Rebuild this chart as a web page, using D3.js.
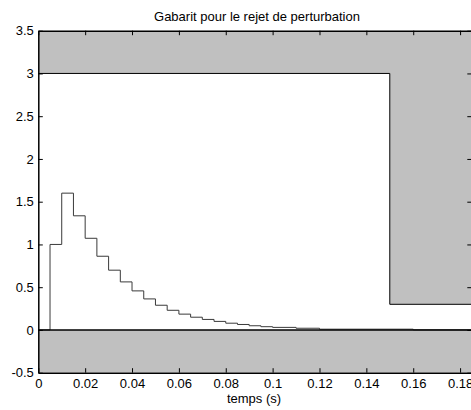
<!DOCTYPE html>
<html><head><meta charset="utf-8">
<script src="https://cdn.jsdelivr.net/npm/d3@7"></script>
<style>
html,body{margin:0;padding:0;background:#fff;}
text{font-family:"Liberation Sans",Arial,Helvetica,sans-serif;}
</style></head>
<body><svg id="chart" width="471" height="410"></svg>
<script>
const titleText = "Gabarit pour le rejet de perturbation";
const xLabelText = "temps (s)";
const xTicks = [0, 0.02, 0.04, 0.06, 0.08, 0.1, 0.12, 0.14, 0.16, 0.18];
const yTicks = [-0.5, 0, 0.5, 1, 1.5, 2, 2.5, 3, 3.5];
const xLimits = [0, 0.185];
const yLimits = [-0.5, 3.5];
// gabarit (template) bounds
const upperBoundX = [0, 0.15, 0.15, 0.185];
const upperBoundY = [3, 3, 0.3, 0.3];
const lowerBoundX = [0, 0.185];
const lowerBoundY = [0, 0];
// disturbance response (staircase)
const stepTimes = [0, 0.005, 0.01, 0.015, 0.02, 0.025, 0.03, 0.035, 0.04, 0.045, 0.05, 0.055, 0.06, 0.065, 0.07, 0.075, 0.08, 0.085, 0.09, 0.095, 0.1, 0.11, 0.12, 0.16, 0.185];
const stepValues = [0, 1, 1.6, 1.335, 1.072, 0.862, 0.699, 0.562, 0.457, 0.363, 0.289, 0.23, 0.185, 0.149, 0.123, 0.1, 0.079, 0.064, 0.049, 0.038, 0.03, 0.02, 0.009, 0.001, 0.001];

const svg = d3.select("#chart");
const x = d3.scaleLinear().domain(xLimits).range([38.3, 471.8]);
const y = d3.scaleLinear().domain(yLimits).range([372.7, 30.7]);
const fmt = d => String(+d.toFixed(2));

svg.append("defs").append("clipPath").attr("id","clip")
  .append("rect").attr("x", x(xLimits[0])).attr("y", y(yLimits[1]))
  .attr("width", x(xLimits[1]) - x(xLimits[0])).attr("height", y(yLimits[0]) - y(yLimits[1]));

const g = svg.append("g").attr("clip-path","url(#clip)");

// upper forbidden region
const upperPoly = upperBoundX.map((v,i)=>[v, upperBoundY[i]]);
const upperArea = [[xLimits[0], yLimits[1]], ...upperPoly, [xLimits[1], yLimits[1]]];
g.append("path")
  .attr("d", d3.line().x(d=>x(d[0])).y(d=>y(d[1]))(upperArea) + "Z")
  .attr("fill", "#c0c0c0").attr("stroke", "none");
g.append("path")
  .attr("d", d3.line().x(d=>x(d[0])).y(d=>y(d[1]))(upperPoly))
  .attr("fill", "none").attr("stroke", "#000").attr("stroke-width", 1);

// lower forbidden region
const lowerPoly = lowerBoundX.map((v,i)=>[v, lowerBoundY[i]]);
const lowerArea = [...lowerPoly, [xLimits[1], yLimits[0]], [xLimits[0], yLimits[0]]];
g.append("path")
  .attr("d", d3.line().x(d=>x(d[0])).y(d=>y(d[1]))(lowerArea) + "Z")
  .attr("fill", "#c0c0c0").attr("stroke", "none");

// response
const resp = stepTimes.map((t,i)=>[t, stepValues[i]]);
g.append("path")
  .attr("d", d3.line().curve(d3.curveStepAfter).x(d=>x(d[0])).y(d=>y(d[1]))(resp))
  .attr("fill", "none").attr("stroke", "#3a3a3a").attr("stroke-width", 1);

g.append("path")
  .attr("d", d3.line().x(d=>x(d[0])).y(d=>y(d[1]))(lowerPoly))
  .attr("fill", "none").attr("stroke", "#000").attr("stroke-width", 1.5);

// axes (MATLAB style: inward ticks, box)
const tickLen = 4.5;
const axB = svg.append("g").attr("transform", `translate(0,${y(yLimits[0])})`)
  .call(d3.axisBottom(x).tickValues(xTicks).tickSizeInner(-tickLen).tickSizeOuter(0).tickPadding(6).tickFormat(fmt));
const axT = svg.append("g").attr("transform", `translate(0,${y(yLimits[1])})`)
  .call(d3.axisTop(x).tickValues(xTicks).tickSizeInner(-tickLen).tickSizeOuter(0).tickFormat(""));
const axL = svg.append("g").attr("transform", `translate(${x(xLimits[0])},0)`)
  .call(d3.axisLeft(y).tickValues(yTicks).tickSizeInner(-tickLen).tickSizeOuter(0).tickPadding(4.5).tickFormat(fmt));
const axR = svg.append("g").attr("transform", `translate(${x(xLimits[1])},0)`)
  .call(d3.axisRight(y).tickValues(yTicks).tickSizeInner(-tickLen).tickSizeOuter(0).tickFormat(""));
[axB, axT, axL, axR].forEach(a => {
  a.select(".domain").attr("stroke", "#000").attr("stroke-width", 1.5);
  a.selectAll(".tick line").attr("stroke", "#000").attr("stroke-width", 1);
  a.selectAll("text").attr("font-size", 13).attr("fill", "#000")
    .style("font-family", '"Liberation Sans", Arial, sans-serif');
});

svg.append("text").attr("x", 257).attr("y", 20.5)
  .attr("text-anchor", "middle").attr("font-size", 13).attr("fill", "#000").text(titleText);
svg.append("text").attr("x", 254).attr("y", 403)
  .attr("text-anchor", "middle").attr("font-size", 13).attr("fill", "#000").text(xLabelText);
</script></body></html>
